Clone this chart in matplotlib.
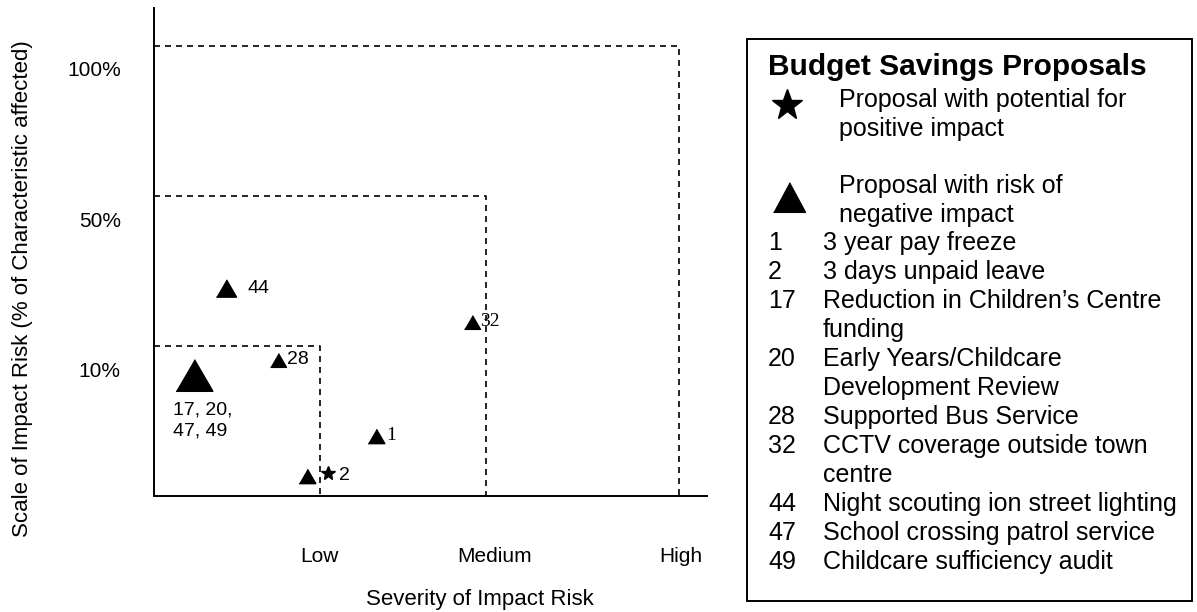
"""
Impact risk matrix for the budget savings proposals
"""

import matplotlib as mpl
mpl.use('Agg')
import matplotlib.pyplot as plt

# data
severity_labels = ['Low', 'Medium', 'High']
severity_pos = [30, 61.5, 95.3]
severity_bounds = [30, 60, 95]

scale_labels = ['10%', '50%', '100%']
scale_pos = [26.0, 56.6, 87.5]
scale_bounds = [30.7, 61.5, 92.2]

# proposals: label, severity, scale, kind
prop_labels = ['44', '32', '28', '17, 20,\n47, 49', '1', '', '2']
prop_x = [13.0, 57.5, 22.4, 7.2, 40.1, 27.7, 31.5]
prop_y = [42.6, 35.7, 27.9, 24.8, 12.3, 4.1, 4.7]
prop_kind = ['neg', 'neg', 'neg', 'neg', 'neg', 'neg', 'pos']

legend_title = 'Budget Savings Proposals'
legend_pos_text = 'Proposal with potential for\npositive impact'
legend_neg_text = 'Proposal with risk of\nnegative impact'
legend_ids = ['1', '2', '17', '20', '28', '32', '44', '47', '49']
legend_desc = ['3 year pay freeze',
               '3 days unpaid leave',
               'Reduction in Children\u2019s Centre\nfunding',
               'Early Years/Childcare\nDevelopment Review',
               'Supported Bus Service',
               'CCTV coverage outside town\ncentre',
               'Night scouting ion street lighting',
               'School crossing patrol service',
               'Childcare sufficiency audit']

# figure
W, H = 1197, 612
plt.rc('font', family='Liberation Sans')
fig = plt.figure(figsize=(W/100, H/100), dpi=100)

ax_l, ax_r, ax_t, ax_b = 154, 707, 8, 496
ax = fig.add_axes([ax_l/W, 1-ax_b/H, (ax_r-ax_l)/W, (ax_b-ax_t)/H])
ax.set_xlim(0, 100)
ax.set_ylim(0, 100)
for s in ['top', 'right']:
    ax.spines[s].set_visible(False)
for s in ['left', 'bottom']:
    ax.spines[s].set_linewidth(1.4)

# dashed risk zones
for xb, yb in zip(severity_bounds, scale_bounds):
    ax.plot([0, xb, xb], [yb, yb, 0], color='k', lw=1.2,
            dashes=(3.6, 3.0), solid_capstyle='butt')

# triangle a bit flatter than matplotlib's '^'
tri = [(-1, -0.86), (1, -0.86), (0, 0.86)]
sizes = [14.5, 11.5, 11.5, 26.5, 12.0, 12.0, 10.5]
for lab, x, y, k, ms in zip(prop_labels, prop_x, prop_y, prop_kind, sizes):
    mk = tri if k == 'neg' else '*'
    ax.plot(x, y, marker=mk, ms=ms, color='k', ls='none', zorder=3)

# point labels
ax.text(prop_x[0]+3.9, prop_y[0], prop_labels[0], fontsize=14, va='center')
ax.text(prop_x[1]+1.5, prop_y[1], prop_labels[1], fontsize=14, va='center',
        family='Liberation Serif')
ax.text(prop_x[2]+1.6, prop_y[2], prop_labels[2], fontsize=14, va='center')
ax.text(prop_x[3]-3.8, prop_y[3]-5.5, prop_labels[3], fontsize=14, va='top',
        linespacing=1.25)
ax.text(prop_x[4]+1.9, prop_y[4], prop_labels[4], fontsize=14, va='center',
        family='Liberation Serif')
ax.text(prop_x[6]+1.9, prop_y[6]-0.5, prop_labels[6], fontsize=14, va='center')

ax.set_xticks(severity_pos)
ax.set_xticklabels(severity_labels, fontsize=15)
ax.set_yticks(scale_pos)
ax.set_yticklabels(scale_labels, fontsize=15)
ax.tick_params(axis='x', length=0, pad=37)
ax.tick_params(axis='y', length=0, pad=24)

ax.set_xlabel('Severity of Impact Risk', fontsize=16, va='center')
ax.xaxis.set_label_coords((480-ax_l)/(ax_r-ax_l), -(600-ax_b)/(ax_b-ax_t))
ax.set_ylabel('Scale of Impact Risk (% of Characteristic affected)',
              fontsize=16, va='center')
ax.yaxis.set_label_coords((22-ax_l)/(ax_r-ax_l), (ax_b-289)/(ax_b-ax_t))

# legend box, pixel coordinates
lg = fig.add_axes([0, 0, 1, 1], facecolor='none')
lg.set_xlim(0, W)
lg.set_ylim(H, 0)
lg.axis('off')
lg.add_patch(plt.Rectangle((747, 39), 1192-747, 601-39, fill=False,
                           lw=1.4, ec='k'))
lg.text(768, 75, legend_title, fontsize=21.5, weight='bold', va='baseline')
lg.plot(787, 105, marker='*', ms=23, color='k')
lg.plot(789, 197, marker=[(-1, -0.93), (1, -0.93), (0, 0.93)], ms=23,
        color='k')

line_h = 28.6
y0 = 99 + 8
for i, l in enumerate(legend_pos_text.split('\n')):
    lg.text(839, y0 + i*line_h, l, fontsize=18, va='baseline')
y0 = 185 + 8
for i, l in enumerate(legend_neg_text.split('\n')):
    lg.text(839, y0 + i*line_h, l, fontsize=18, va='baseline')

y = 242 + 8
for pid, desc in zip(legend_ids, legend_desc):
    lg.text(768, y, pid, fontsize=18, va='baseline')
    for l in desc.split('\n'):
        lg.text(823, y, l, fontsize=18, va='baseline')
        y += 29

fig.savefig('out.png')
plt.close('all')
